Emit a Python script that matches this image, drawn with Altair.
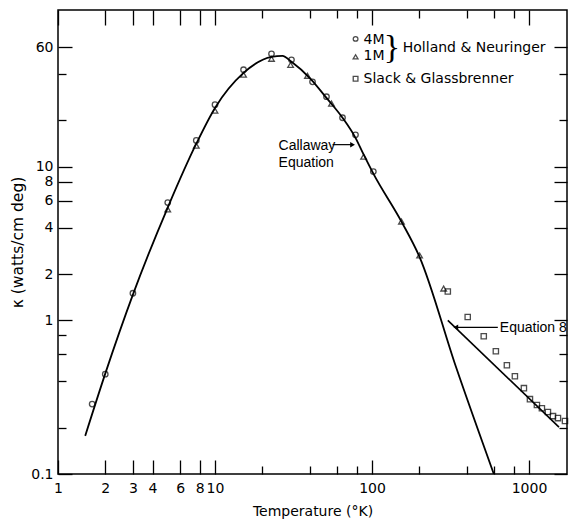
import altair as alt
import pandas as pd

# ---- data ----
# Holland & Neuringer, sample 4M (open circles)
t_4m = [1.65, 2.0, 3.0, 5.0, 7.6, 10.0, 15.2, 22.9, 30.7, 41.8, 51.3, 64.9, 78.5, 102]
k_4m = [0.285, 0.446, 1.50, 5.84, 14.8, 25.3, 42.7, 54.2, 49.5, 35.6, 28.5, 20.8, 16.1, 9.29]
# Holland & Neuringer, sample 1M (open triangles)
t_1m = [5.0, 7.6, 10.0, 15.2, 22.9, 30.3, 38.8, 55.2, 88.4, 154, 201, 286]
k_1m = [5.26, 13.7, 23.1, 39.6, 50.3, 45.9, 39.0, 25.7, 11.6, 4.39, 2.64, 1.61]
# Slack & Glassbrenner (open squares)
t_sg = [304, 407, 515, 615, 723, 813, 928, 1014, 1123, 1208, 1320, 1422, 1529, 1695]
k_sg = [1.54, 1.05, 0.787, 0.629, 0.510, 0.433, 0.362, 0.307, 0.281, 0.268, 0.253, 0.238, 0.231, 0.221]
# Callaway equation curve
t_cal = [1.49, 2.0, 3.0, 5.03, 7.6, 10.0, 15.2, 22.9, 26.9, 30.7, 40.6, 51.3, 64.9, 78.5, 88.4, 102, 154, 201, 342, 597]
k_cal = [0.177, 0.45, 1.47, 5.5, 14.1, 24.1, 40.7, 51.8, 52.6, 48.1, 37.3, 28.0, 20.8, 15.4, 12.0, 9.0, 4.39, 2.58, 0.50, 0.1]
# Equation 8 line
t_eq8 = [304, 1552]
k_eq8 = [1.0, 0.202]

# axis ticks / labels
x_major = [1, 2, 3, 4, 6, 8, 10, 100, 1000]
x_minor = [20, 40, 60, 80, 200, 400, 600, 800]
y_major = [0.1, 1, 2, 4, 6, 8, 10, 60]
y_minor = [0.2, 0.4, 0.6, 0.8, 20, 40]

FONT = "DejaVu Sans"
AFONT = "Liberation Sans"

xs = alt.Scale(type="log", domain=[1, 1746], nice=False)
ys = alt.Scale(type="log", domain=[0.1, 104.5], nice=False)


def axis(orient, values, size, labels, title=None, pad=6, tpad=8, tsize=14):
    kw = dict(
        orient=orient, values=values, tickSize=size, offset=-size,
        domain=False, grid=False, labels=labels, ticks=True,
        tickColor="black", tickWidth=1.3, labelFlush=False,
        labelOverlap=False, format="~g", labelFont=FONT, labelFontSize=14,
        labelColor="black", labelPadding=pad, title=title,
    )
    if title:
        kw.update(titleFont=FONT, titleFontSize=tsize, titleFontWeight="normal",
                  titleColor="black", titlePadding=tpad)
    return alt.Axis(**kw)


def xy(xaxis=None, yaxis=None):
    return dict(
        x=alt.X("t:Q", scale=xs, axis=xaxis),
        y=alt.Y("k:Q", scale=ys, axis=yaxis),
    )


df_4m = pd.DataFrame({"t": t_4m, "k": k_4m})
df_1m = pd.DataFrame({"t": t_1m, "k": k_1m})
df_sg = pd.DataFrame({"t": t_sg, "k": k_sg})
df_cal = pd.DataFrame({"t": t_cal, "k": k_cal})
df_eq8 = pd.DataFrame({"t": t_eq8, "k": k_eq8})

curve = alt.Chart(df_cal).mark_line(color="black", strokeWidth=1.8, interpolate="monotone", clip=True).encode(
    **xy(axis("bottom", x_major, 14, True, "Temperature (°K)", pad=7, tpad=9),
         axis("left", y_major, 14, True, "κ (watts/cm deg)", pad=5, tpad=5, tsize=15.5))
)
eq8 = alt.Chart(df_eq8).mark_line(color="black", strokeWidth=1.6, clip=True).encode(
    **xy(axis("top", x_major, 15, False), axis("right", y_major, 13, False))
)
circles = alt.Chart(df_4m).mark_point(shape="circle", filled=False, size=30, strokeWidth=1.3, color="black").encode(
    **xy(axis("bottom", x_minor, 8, False), axis("left", y_minor, 8, False))
)
triangles = alt.Chart(df_1m).mark_point(shape="triangle-up", filled=False, size=32, strokeWidth=1.3, color="black").encode(
    **xy(axis("top", x_minor, 8, False), axis("right", y_minor, 8, False))
)
squares = alt.Chart(df_sg).mark_point(shape="square", filled=False, size=28, strokeWidth=1.3, color="black").encode(
    **xy()
)

# ---- annotations (anchored in data coordinates) ----
ann_text = pd.DataFrame({
    "t": [25.4, 25.4, 652],
    "k": [13.7, 10.6, 0.887],
    "label": ["Callaway", "Equation", "Equation 8"],
})
texts = alt.Chart(ann_text).mark_text(font=AFONT, fontSize=14, align="left", baseline="middle", color="black").encode(
    **xy(), text="label:N"
)
arrows = pd.DataFrame({"t": [56.1, 633], "t2": [75.2, 342], "k": [13.9, 0.90]})
arrow_lines = alt.Chart(arrows).mark_rule(color="black", strokeWidth=1.2).encode(
    x=alt.X("t:Q", scale=xs, axis=None), x2="t2:Q", y=alt.Y("k:Q", scale=ys, axis=None)
)
heads_r = alt.Chart(pd.DataFrame({"t": [75.2], "k": [13.9]})).mark_point(
    shape="triangle-right", filled=True, size=30, color="black", opacity=1).encode(**xy())
heads_l = alt.Chart(pd.DataFrame({"t": [342], "k": [0.90]})).mark_point(
    shape="triangle-left", filled=True, size=30, color="black", opacity=1).encode(**xy())

# ---- legend ----
leg_c = alt.Chart(pd.DataFrame({"t": [78.6], "k": [67.8]})).mark_point(
    shape="circle", filled=False, size=22, strokeWidth=1.3, color="black").encode(**xy())
leg_t = alt.Chart(pd.DataFrame({"t": [78.6], "k": [51.8]})).mark_point(
    shape="triangle-up", filled=False, size=24, strokeWidth=1.3, color="black").encode(**xy())
leg_s = alt.Chart(pd.DataFrame({"t": [78.6], "k": [37.3]})).mark_point(
    shape="square", filled=False, size=22, strokeWidth=1.3, color="black").encode(**xy())
leg_text = pd.DataFrame({
    "t": [88.4, 88.4, 88.4, 157],
    "k": [66.8, 52.6, 37.3, 59.3],
    "label": ["4M", "1M", "Slack & Glassbrenner", "Holland & Neuringer"],
})
leg_texts = alt.Chart(leg_text).mark_text(font=FONT, fontSize=14, align="left", baseline="middle", color="black").encode(
    **xy(), text="label:N"
)
brace = alt.Chart(pd.DataFrame({"t": [134], "k": [59.3], "label": ["}"]})).mark_text(
    font="Liberation Serif", fontSize=34, align="center", baseline="middle", color="black").encode(
    **xy(), text="label:N"
)

chart = alt.layer(
    curve, eq8, circles, triangles, squares, texts, arrow_lines, heads_r, heads_l,
    leg_c, leg_t, leg_s, leg_texts, brace,
).resolve_axis(x="independent", y="independent").properties(
    width=509, height=464,
    autosize=alt.AutoSizeParams(type="none"),
    padding={"left": 58, "top": 10, "right": 2, "bottom": 46},
    background="white",
).configure_view(stroke="black", strokeWidth=1.5)

chart.save("out.html", embed_options={"renderer": "svg", "actions": False})
